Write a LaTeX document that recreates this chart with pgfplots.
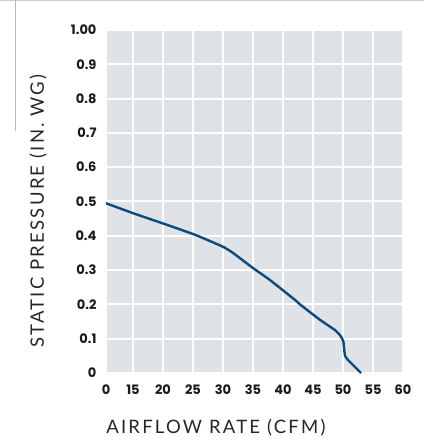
\documentclass[border=0pt]{standalone}
\usepackage{fontspec}
\setmainfont{Lato}
\newfontfamily\labelfont[LetterSpace=12]{Lato}
\newfontfamily\tickfont{Poppins}
\usepackage{pgfplots}
\pgfplotsset{compat=1.18}
\definecolor{bgcol}{HTML}{DFE2E7}
\definecolor{linecol}{HTML}{0C4A7E}
\definecolor{framecol}{HTML}{CCCCCC}
\begin{document}
\begin{tikzpicture}[x=1pt,y=1pt]
\useasboundingbox (0,0) rectangle (424,445);
\fill[framecol] (0,443.5) rectangle (424,445);
\fill[framecol!90!black] (14.5,314) rectangle (15.5,445);
\begin{axis}[
  at={(106pt,72pt)}, anchor=south west,
  scale only axis, width=297pt, height=343pt,
  xmin=10.5, xmax=60, ymin=0, ymax=1,
  xtick={10.5,15,20,25,30,35,40,45,50,55,60},
  xticklabels={0,15,20,25,30,35,40,45,50,55,60},
  ytick={0,0.1,0.2,0.3,0.4,0.5,0.6,0.7,0.8,0.9,1},
  yticklabels={0,0.1,0.2,0.3,0.4,0.5,0.6,0.7,0.8,0.9,1.00},
  /pgf/number format/assume math mode=true,
  tick label style={font=\tickfont\bfseries\fontsize{13}{15}\selectfont, text=black!90},
  x tick label style={yshift=-8.5pt},
  y tick label style={xshift=-6pt},
  axis background/.style={fill=bgcol},
  grid=major,
  major grid style={white, line width=2pt},
  axis line style={draw=none},
  tick style={draw=none},
  xlabel={AIRFLOW RATE (CFM)},
  ylabel={STATIC PRESSURE (IN. WG)},
  label style={font=\labelfont\fontsize{18.5}{21}\selectfont, text=black!85},
  x label style={at={(axis description cs:0.37,-0.16)}, anchor=center},
  y label style={at={(axis description cs:-0.229,0.472)}, anchor=center, rotate=0},
]
\addplot[linecol, line width=2.4pt, line join=round, smooth, tension=0.3] coordinates {
(10.5,0.495) (15,0.466) (20,0.436) (25.33,0.403) (30,0.368) (31.67,0.350)
(35,0.306) (37.83,0.271) (42,0.213) (42.83,0.200) (46.17,0.155) (48.67,0.125)
(49.6,0.108) (50.05,0.092) (50.2,0.068) (50.35,0.050) (50.83,0.038) (53,0.0)
};
\end{axis}
\end{tikzpicture}
\end{document}
